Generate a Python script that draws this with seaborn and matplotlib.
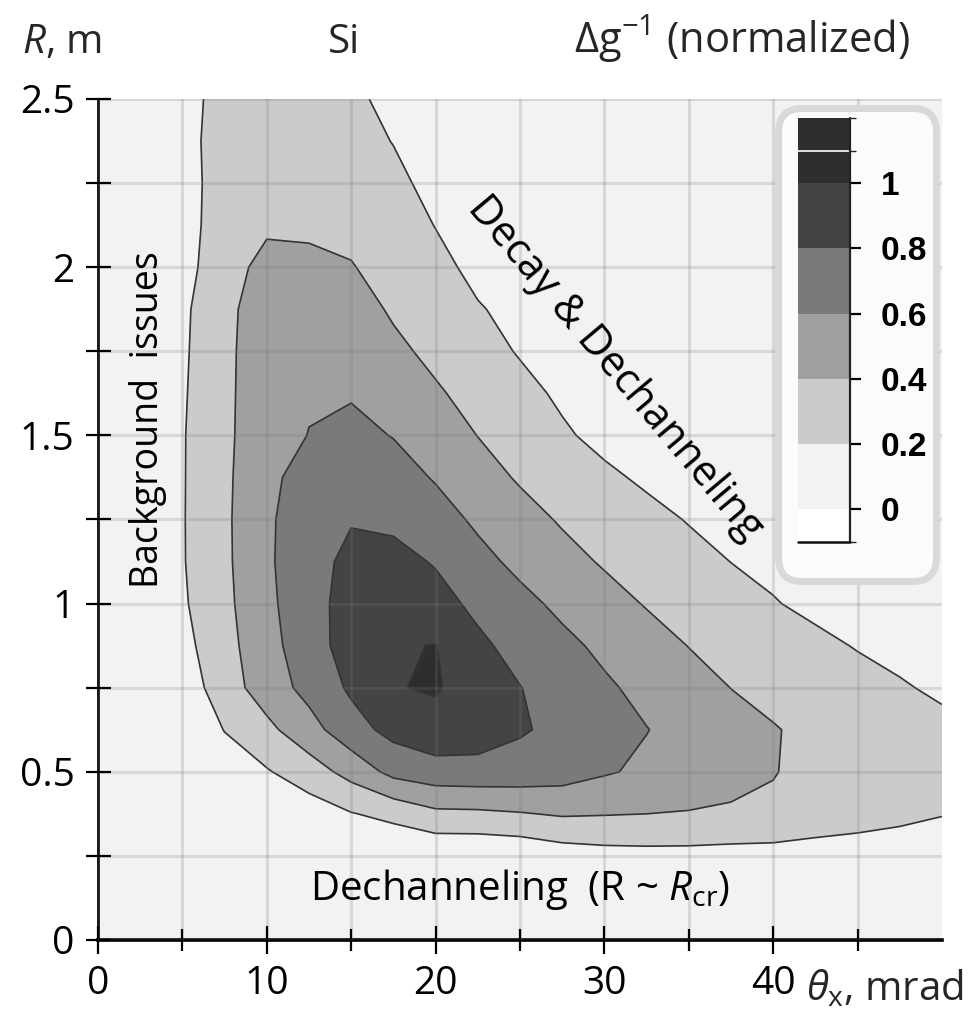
import numpy as np
import matplotlib
matplotlib.use("Agg")
import matplotlib.pyplot as plt
import seaborn as sns
from matplotlib.colors import ListedColormap, BoundaryNorm
from matplotlib.patches import FancyBboxPatch
from matplotlib.cm import ScalarMappable

# ---------------- data ----------------
theta_mrad = [0, 2.5, 5, 7.5, 10, 12.5, 15, 17.5, 20, 22.5, 25,
              27.5, 30, 32.5, 35, 37.5, 40, 42.5, 45, 47.5, 50]
radius_m = [0, 0.125, 0.25, 0.375, 0.5, 0.625, 0.75, 0.875, 1.0, 1.125, 1.25,
            1.375, 1.5, 1.625, 1.75, 1.875, 2.0, 2.125, 2.25, 2.375, 2.5]

# normalized inverse figure of merit, one list per radius row (theta along the row)
dg_r0000 = [0.02] * 21
dg_r0125 = [0.02] * 21
dg_r0250 = [0.02, 0.02, 0.02, 0.02, 0.02, 0.02, 0.02, 0.02, 0.02, 0.02, 0.04, 0.10, 0.13, 0.14, 0.14, 0.13, 0.12, 0.10, 0.08, 0.06, 0.05]
dg_r0375 = [0.02, 0.02, 0.02, 0.03, 0.05, 0.10, 0.19, 0.254, 0.356, 0.363, 0.387, 0.42, 0.41, 0.40, 0.39, 0.377, 0.376, 0.33, 0.30, 0.26, 0.21]
dg_r0500 = [0.02, 0.02, 0.03, 0.10, 0.184, 0.305, 0.469, 0.66, 0.72, 0.73, 0.72, 0.69, 0.62, 0.564, 0.511, 0.459, 0.406, 0.36, 0.33, 0.30, 0.28]
dg_r0625 = [0.02, 0.02, 0.04, 0.206, 0.351, 0.525, 0.725, 0.86, 0.93, 0.90, 0.82, 0.752, 0.676, 0.605, 0.533, 0.467, 0.41, 0.36, 0.32, 0.28, 0.245]
dg_r0750 = [0.02, 0.04, 0.082, 0.309, 0.497, 0.662, 0.83, 0.99, 1.02, 0.90, 0.805, 0.716, 0.628, 0.549, 0.473, 0.398, 0.353, 0.308, 0.262, 0.217, 0.17]
dg_r0875 = [0.03, 0.06, 0.14, 0.331, 0.533, 0.71, 0.89, 0.985, 1.005, 0.84, 0.733, 0.646, 0.56, 0.477, 0.396, 0.344, 0.292, 0.24, 0.19, 0.15, 0.12]
dg_r1000 = [0.03, 0.07, 0.175, 0.351, 0.556, 0.725, 0.88, 0.93, 0.87, 0.755, 0.653, 0.558, 0.47, 0.388, 0.329, 0.269, 0.21, 0.16, 0.13, 0.10, 0.08]
dg_r1125 = [0.03, 0.07, 0.187, 0.362, 0.567, 0.74, 0.84, 0.86, 0.785, 0.657, 0.553, 0.462, 0.381, 0.32, 0.26, 0.198, 0.16, 0.13, 0.10, 0.08, 0.07]
dg_r1250 = [0.03, 0.07, 0.188, 0.365, 0.567, 0.72, 0.79, 0.76, 0.68, 0.567, 0.469, 0.381, 0.317, 0.254, 0.19, 0.15, 0.12, 0.10, 0.08, 0.06, 0.05]
dg_r1375 = [0.03, 0.07, 0.187, 0.362, 0.553, 0.68, 0.72, 0.68, 0.585, 0.477, 0.38, 0.307, 0.235, 0.17, 0.13, 0.10, 0.08, 0.06, 0.05, 0.04, 0.04]
dg_r1500 = [0.03, 0.07, 0.186, 0.365, 0.51, 0.605, 0.65, 0.593, 0.50, 0.397, 0.31, 0.225, 0.15, 0.11, 0.09, 0.07, 0.06, 0.05, 0.04, 0.04, 0.03]
dg_r1625 = [0.03, 0.07, 0.179, 0.354, 0.531, 0.58, 0.585, 0.52, 0.422, 0.338, 0.254, 0.17, 0.13, 0.10, 0.08, 0.07, 0.06, 0.05, 0.04, 0.04, 0.03]
dg_r1750 = [0.03, 0.07, 0.171, 0.35, 0.53, 0.56, 0.54, 0.44, 0.356, 0.271, 0.186, 0.14, 0.11, 0.08, 0.07, 0.06, 0.05, 0.04, 0.04, 0.03, 0.03]
dg_r1875 = [0.03, 0.07, 0.164, 0.343, 0.52, 0.52, 0.48, 0.377, 0.295, 0.213, 0.15, 0.11, 0.09, 0.07, 0.06, 0.05, 0.04, 0.04, 0.03, 0.03, 0.03]
dg_r2000 = [0.03, 0.06, 0.13, 0.32, 0.46, 0.42, 0.41, 0.327, 0.25, 0.154, 0.12, 0.09, 0.07, 0.06, 0.05, 0.04, 0.04, 0.03, 0.03, 0.03, 0.03]
dg_r2125 = [0.03, 0.06, 0.12, 0.30, 0.37, 0.385, 0.35, 0.29, 0.195, 0.14, 0.10, 0.08, 0.06, 0.05, 0.04, 0.04, 0.03, 0.03, 0.03, 0.03, 0.03]
dg_r2250 = [0.03, 0.06, 0.12, 0.29, 0.35, 0.35, 0.31, 0.24, 0.15, 0.11, 0.09, 0.07, 0.06, 0.05, 0.04, 0.04, 0.03, 0.03, 0.03, 0.03, 0.03]
dg_r2375 = [0.03, 0.06, 0.145, 0.27, 0.32, 0.31, 0.26, 0.195, 0.14, 0.10, 0.08, 0.06, 0.05, 0.04, 0.04, 0.03, 0.03, 0.03, 0.03, 0.03, 0.03]
dg_r2500 = [0.03, 0.06, 0.14, 0.26, 0.30, 0.29, 0.23, 0.16, 0.12, 0.09, 0.07, 0.06, 0.05, 0.04, 0.04, 0.03, 0.03, 0.03, 0.03, 0.03, 0.03]

contour_levels = [0, 0.2, 0.4, 0.6, 0.8, 1.0, 1.2]
band_colors = ["#f2f2f2", "#cbcbcb", "#a0a0a0", "#7a7a7a", "#444444", "#2e2e2e"]
cbar_bounds = [-0.1, 0, 0.2, 0.4, 0.6, 0.8, 1.0, 1.1, 1.2]
cbar_colors = ["#ffffff", "#f2f2f2", "#cbcbcb", "#a0a0a0", "#7a7a7a", "#444444", "#2e2e2e", "#2e2e2e"]
cbar_ticks = [0, 0.2, 0.4, 0.6, 0.8, 1.0]
cbar_ticklabels = ["0", "0.2", "0.4", "0.6", "0.8", "1"]
x_ticks_major = [0, 10, 20, 30, 40]
x_ticks_minor = [5, 15, 25, 35, 45]
y_ticks_major = [0, 0.5, 1, 1.5, 2, 2.5]
y_ticks_minor = [0.25, 0.75, 1.25, 1.75, 2.25]
y_ticklabels = ["0", "0.5", "1", "1.5", "2", "2.5"]

# ---------------- style ----------------
sns.set_theme(style="ticks")
FONT = "Open Sans"
plt.rcParams["font.family"] = [FONT, "DejaVu Sans"]
plt.rcParams["mathtext.fontset"] = "custom"
plt.rcParams["mathtext.rm"] = FONT
plt.rcParams["mathtext.it"] = FONT + ":italic"
plt.rcParams["mathtext.bf"] = FONT + ":bold"

Z = np.array([dg_r0000, dg_r0125, dg_r0250, dg_r0375, dg_r0500, dg_r0625, dg_r0750,
              dg_r0875, dg_r1000, dg_r1125, dg_r1250, dg_r1375, dg_r1500, dg_r1625,
              dg_r1750, dg_r1875, dg_r2000, dg_r2125, dg_r2250, dg_r2375, dg_r2500])

W, H = 974, 1015
fig = plt.figure(figsize=(W / 100, H / 100), dpi=100)
fig.patch.set_facecolor("white")

ax = fig.add_axes([98 / W, 1 - 940 / H, 844 / W, 841 / H])
ax.set_zorder(0)
ax.set_facecolor("#f2f2f2")
ax.contourf(theta_mrad, radius_m, Z, levels=contour_levels, colors=band_colors, zorder=1)
ax.contour(theta_mrad, radius_m, Z, levels=contour_levels[1:-1], colors="#343434",
           linewidths=1.2, zorder=1.5)

ax.set_xlim(0, 50)
ax.set_ylim(0, 2.5)
ax.set_xticks(x_ticks_major)
ax.set_xticks(x_ticks_minor, minor=True)
ax.set_yticks(y_ticks_major)
ax.set_yticklabels(y_ticklabels)
ax.set_yticks(y_ticks_minor, minor=True)
ax.tick_params(axis="both", which="both", direction="inout", width=1.6, color="black",
               labelsize=28, labelcolor="black")
ax.tick_params(axis="x", which="major", length=20, pad=8)
ax.tick_params(axis="x", which="minor", length=16)
ax.tick_params(axis="y", which="both", length=18, pad=8)
for s in ["top", "right"]:
    ax.spines[s].set_visible(False)
ax.spines["left"].set_linewidth(2.0)
ax.spines["bottom"].set_linewidth(2.6)
ax.spines["left"].set_color("black")
ax.spines["bottom"].set_color("black")
ax.set_axisbelow(False)
ax.grid(True, which="both", color="#7a7a7a", alpha=0.22, linewidth=2.2)

# annotations inside the plot
ax.text(2.95, 1.546, "Background  issues", rotation=90, ha="center", va="center",
        fontsize=27, color="black")
ax.text(30.6, 1.70, "Decay & Dechanneling", rotation=-50, ha="center", va="center",
        fontsize=30, color="black", rotation_mode="anchor")
ax.text(25.0, 0.15, r"Dechanneling  (R ~ $R_{\mathrm{cr}}$)", ha="center",
        va="center", fontsize=29, color="black")

# axis titles
fig.text(22 / W, 1 - 53 / H, r"$R$, m", ha="left", va="baseline", fontsize=29)
fig.text(344 / W, 1 - 53 / H, "Si", ha="center", va="baseline", fontsize=29)
fig.text(910 / W, 1 - 53 / H, r"Δg$^{-1}$ (normalized)", ha="right", va="baseline", fontsize=30)
fig.text(806 / W, 1 - 1000 / H, r"$\theta_{\mathrm{x}}$, mrad", ha="left", va="baseline", fontsize=29)

# colorbar inside a rounded box
box = FancyBboxPatch((778.5 / W, 1 - 581.5 / H), 158 / W, 473 / H,
                     boxstyle="round,pad=0,rounding_size=0.024",
                     transform=fig.transFigure, fc="#fbfbfb", ec="#d9d9d9", lw=5, zorder=1)
fig.add_artist(box)

cax = fig.add_axes([798 / W, 1 - 542 / H, 52 / W, 424 / H])
cax.set_zorder(2)
cmap = ListedColormap(cbar_colors)
norm = BoundaryNorm(cbar_bounds, cmap.N)
cb = fig.colorbar(ScalarMappable(norm=norm, cmap=cmap), cax=cax, ticks=cbar_ticks,
                  spacing="proportional")
cb.outline.set_visible(False)
cax.set_yticklabels(cbar_ticklabels)
cax.axhline(1.1, color="white", lw=1.2)
cax.plot([1, 1], [0, 1], transform=cax.transAxes, color="#222222", lw=1.6, clip_on=False)
cax.plot([0, 1], [0, 0], transform=cax.transAxes, color="#111111", lw=1.8, clip_on=False)
cax.tick_params(axis="y", direction="inout", length=16, width=1.6, pad=14, colors="black")
for lab in cax.get_yticklabels():
    lab.set_fontfamily("Liberation Sans")
    lab.set_fontweight("bold")
    lab.set_fontsize(24)

fig.savefig("out.png", dpi=100)
